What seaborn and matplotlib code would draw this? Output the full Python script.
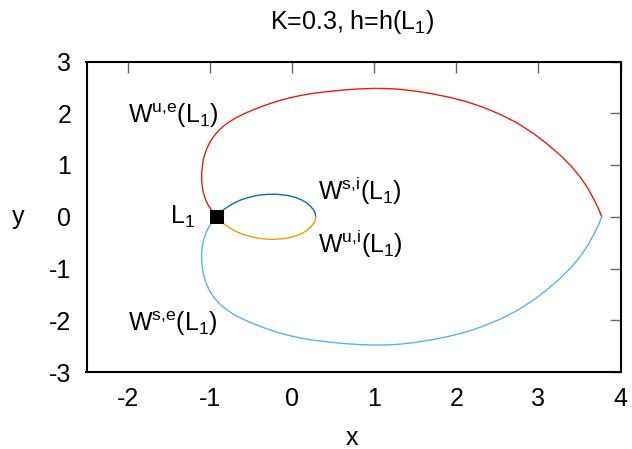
import matplotlib
matplotlib.use("Agg")
import matplotlib.pyplot as plt
import seaborn as sns
import pandas as pd

# Equilibrium point L1
l1_x = [-0.915]
l1_y = [0.0]

# Outer unstable manifold W^{u,e}(L1) (upper branch, from L1 to the cusp)
wue_x = [-0.915, -0.953, -0.987, -1.016, -1.041, -1.060, -1.076, -1.087, -1.094, -1.098,
         -1.098, -1.096, -1.089, -1.081, -1.069, -1.053, -1.033, -1.010, -0.984, -0.953,
         -0.919, -0.881, -0.840, -0.795, -0.746, -0.693, -0.632, -0.571, -0.510, -0.449,
         -0.388, -0.327, -0.267, -0.145, -0.023, 0.099, 0.257, 0.464, 0.671, 0.829,
         1.000, 1.170, 1.316, 1.523, 1.721, 1.925, 2.128, 2.326, 2.533, 2.740,
         2.939, 3.105, 3.264, 3.398, 3.507, 3.598, 3.669, 3.726, 3.771]
wue_y = [0.0, 0.072, 0.144, 0.217, 0.295, 0.376, 0.459, 0.546, 0.633, 0.720,
         0.807, 0.894, 0.981, 1.068, 1.155, 1.240, 1.323, 1.402, 1.477, 1.549,
         1.616, 1.680, 1.740, 1.796, 1.848, 1.902, 1.951, 1.997, 2.040, 2.078,
         2.117, 2.152, 2.186, 2.248, 2.299, 2.341, 2.384, 2.424, 2.455, 2.471,
         2.480, 2.476, 2.463, 2.424, 2.372, 2.306, 2.223, 2.117, 1.980, 1.815,
         1.612, 1.410, 1.193, 0.981, 0.774, 0.565, 0.357, 0.179, 0.0]

# Outer stable manifold W^{s,e}(L1) (lower branch, from L1 to the cusp)
wse_x = [-0.915, -0.953, -0.987, -1.016, -1.041, -1.060, -1.076, -1.087, -1.094, -1.098,
         -1.098, -1.096, -1.089, -1.081, -1.069, -1.053, -1.033, -1.010, -0.984, -0.953,
         -0.919, -0.881, -0.840, -0.795, -0.746, -0.693, -0.632, -0.571, -0.510, -0.449,
         -0.388, -0.327, -0.267, -0.145, -0.023, 0.099, 0.257, 0.464, 0.671, 0.829,
         1.000, 1.170, 1.316, 1.523, 1.721, 1.925, 2.128, 2.326, 2.533, 2.740,
         2.939, 3.105, 3.264, 3.398, 3.507, 3.598, 3.669, 3.726, 3.771]
wse_y = [0.0, -0.072, -0.144, -0.217, -0.295, -0.376, -0.459, -0.546, -0.633, -0.720,
         -0.807, -0.894, -0.981, -1.068, -1.155, -1.240, -1.323, -1.402, -1.477, -1.549,
         -1.616, -1.680, -1.740, -1.796, -1.848, -1.902, -1.951, -1.997, -2.040, -2.078,
         -2.117, -2.152, -2.186, -2.248, -2.299, -2.341, -2.384, -2.424, -2.455, -2.471,
         -2.480, -2.476, -2.463, -2.424, -2.372, -2.306, -2.223, -2.117, -1.980, -1.815,
         -1.612, -1.410, -1.193, -0.981, -0.774, -0.565, -0.357, -0.179, 0.0]

# Inner stable manifold W^{s,i}(L1) (upper loop)
wsi_x = [-0.915, -0.875, -0.827, -0.766, -0.699, -0.626, -0.547, -0.461, -0.376, -0.291,
         -0.206, -0.121, -0.035, 0.044, 0.117, 0.178, 0.226, 0.263, 0.284, 0.290]
wsi_y = [0.0, 0.072, 0.140, 0.208, 0.270, 0.322, 0.364, 0.399, 0.422, 0.434,
         0.436, 0.426, 0.405, 0.372, 0.326, 0.270, 0.204, 0.134, 0.067, 0.0]

# Inner unstable manifold W^{u,i}(L1) (lower loop)
wui_x = [-0.915, -0.875, -0.827, -0.766, -0.699, -0.626, -0.547, -0.461, -0.376, -0.291,
         -0.206, -0.121, -0.035, 0.044, 0.117, 0.178, 0.226, 0.263, 0.284, 0.290]
wui_y = [0.0, -0.072, -0.140, -0.208, -0.270, -0.322, -0.364, -0.399, -0.422, -0.434,
         -0.436, -0.426, -0.405, -0.372, -0.326, -0.270, -0.204, -0.134, -0.067, 0.0]

x_ticks = [-2, -1, 0, 1, 2, 3, 4]
y_ticks = [-3, -2, -1, 0, 1, 2, 3]

sns.set_theme(style="white")
plt.rcParams["font.family"] = ["Liberation Sans", "DejaVu Sans"]
plt.rcParams["mathtext.fontset"] = "custom"
plt.rcParams["mathtext.rm"] = "Liberation Sans"
plt.rcParams["mathtext.it"] = "Liberation Sans:italic"
plt.rcParams["text.color"] = "black"

fig = plt.figure(figsize=(6.32, 4.49), dpi=100)
ax = fig.add_axes([86.5 / 632, 1 - 372 / 449, (620.5 - 86.5) / 632, (372 - 61.5) / 449])

curves = [
    (wue_x, wue_y, "#e51e10"),
    (wse_x, wse_y, "#56b4e9"),
    (wsi_x, wsi_y, "#0072b2"),
    (wui_x, wui_y, "#e69f00"),
]
for cx, cy, col in curves:
    sns.lineplot(data=pd.DataFrame({"x": cx, "y": cy}), x="x", y="y", sort=False,
                 estimator=None, color=col, lw=1.0, ax=ax)

sns.scatterplot(x=l1_x, y=l1_y, marker="s", s=90, color="black", edgecolor="black",
                linewidth=0, zorder=5, ax=ax)

ax.set_xlim(-2.5, 4)
ax.set_ylim(-3, 3)
ax.set_xticks(x_ticks)
ax.set_yticks(y_ticks)
ax.set_xticklabels([str(v) for v in x_ticks])
ax.set_yticklabels([str(v) for v in y_ticks])
ax.tick_params(axis="both", which="both", direction="in", length=8, width=1.0,
               color="#666666", labelsize=18, labelcolor="black",
               top=True, right=True)
ax.tick_params(axis="x", pad=11)
ax.tick_params(axis="y", pad=11)
for sp in ax.spines.values():
    sp.set_color("black")
    sp.set_linewidth(1.5)
ax.set_xlabel("")
ax.set_ylabel("")

fs = 18
ax.text(-1.99, 1.817, r"W$^{\rm u{,}e}$(L$_{\rm 1}$)", fontsize=fs, ha="left", va="baseline")
ax.text(0.32, 0.324, r"W$^{\rm s{,}i}$(L$_{\rm 1}$)", fontsize=fs, ha="left", va="baseline")
ax.text(0.32, -0.695, r"W$^{\rm u{,}i}$(L$_{\rm 1}$)", fontsize=fs, ha="left", va="baseline")
ax.text(-1.99, -2.21, r"W$^{\rm s{,}e}$(L$_{\rm 1}$)", fontsize=fs, ha="left", va="baseline")
ax.text(-1.484, -0.14, r"L$_{\rm 1}$", fontsize=fs, ha="left", va="baseline")

fig.text(352.5 / 632, 1 - 29.3 / 449, r"K=0.3, h=h(L$_{\rm 1}$)", fontsize=18,
         ha="center", va="baseline", color="black")
fig.text(352 / 632, 1 - 438 / 449, "x", fontsize=18, ha="center", va="center",
         color="black")
fig.text(18 / 632, 1 - 217 / 449, "y", fontsize=18, ha="center", va="center",
         color="black")

fig.savefig("out.png", dpi=100)
